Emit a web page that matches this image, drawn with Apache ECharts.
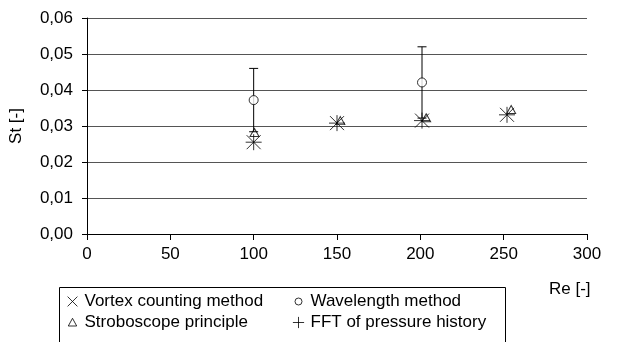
<!DOCTYPE html>
<html>
<head>
<meta charset="utf-8">
<script src="https://cdn.jsdelivr.net/npm/echarts@6/dist/echarts.min.js"></script>
<style>
  html, body {margin: 0; padding: 0; background: #fff;}
  #chart {width: 620px; height: 342px;}
</style>
</head>
<body>
<div id="chart"></div>
<script>
// data
const reVortex = [100, 150, 201, 252];
const stVortex = [0.0255, 0.0308, 0.0315, 0.0331];
const reWave = [100, 201];
const stWave = [0.0372, 0.0421];
const errWave = [0.0088, 0.0099];
const reStrobo = [100.5, 152, 203.5, 254.5];
const stStrobo = [0.0282, 0.0315, 0.0323, 0.0346];
const reFft = [100, 150, 201, 252];
const stFft = [0.0255, 0.0308, 0.0315, 0.0331];
const xTicks = {min: 0, max: 300, step: 50};
const yTicks = {min: 0, max: 0.06, step: 0.01};

const FONT = 'Liberation Sans, Arial, sans-serif';
const pad = 'M0,0L0,0M20,20L20,20';
const icons = {
  cross: 'path://M0,0L10,10M10,0L0,10',
  plus: 'path://M5,0L5,10M0,5L10,5',
  tri: 'path://M5,0L10,9L0,9Z',
  legCross: 'path://' + pad + 'M3,3L17,17M17,3L3,17',
  legPlus: 'path://' + pad + 'M10,2L10,18M2,10L18,10',
  legTri: 'path://' + pad + 'M10,4L16,15L4,15Z',
  legCircle: 'path://' + pad + 'M15,10A5,5,0,1,1,5,10A5,5,0,1,1,15,10Z'
};
const stroke = {color: 'rgba(0,0,0,0)', borderColor: '#000', borderWidth: 1};
const txt = {color: '#000', fontFamily: FONT, fontSize: 17};

const zip = (xs, ys) => xs.map((x, i) => [x, ys[i]]);

const chart = echarts.init(document.getElementById('chart'));
chart.setOption({
  animation: false,
  backgroundColor: '#fff',
  grid: {left: 86, right: 33, top: 18, bottom: 108},
  xAxis: {
    type: 'value', min: xTicks.min, max: xTicks.max, interval: xTicks.step,
    axisLine: {lineStyle: {color: '#000'}},
    axisTick: {show: true, length: 6, lineStyle: {color: '#000'}},
    axisLabel: Object.assign({margin: 12}, txt),
    splitLine: {show: false}
  },
  yAxis: {
    type: 'value', min: yTicks.min, max: yTicks.max, interval: yTicks.step,
    name: 'St [-]', nameLocation: 'middle', nameGap: 62, nameRotate: 90,
    nameTextStyle: txt,
    axisLine: {show: true, lineStyle: {color: '#000'}},
    axisTick: {show: true, length: 5, lineStyle: {color: '#000'}},
    axisLabel: Object.assign({
      margin: 14,
      formatter: v => v.toFixed(2).replace('.', ',')
    }, txt),
    splitLine: {lineStyle: {color: '#555', width: 1.2}}
  },
  legend: [
    {
      orient: 'vertical', left: 65, top: 293, padding: 0, itemGap: 4,
      itemWidth: 14, itemHeight: 14,
      textStyle: Object.assign({lineHeight: 17}, txt),
      data: [
        {name: 'Vortex counting method', icon: icons.legCross, itemStyle: stroke},
        {name: 'Stroboscope principle', icon: icons.legTri, itemStyle: stroke}
      ]
    },
    {
      orient: 'vertical', left: 291, top: 293, padding: 0, itemGap: 4,
      itemWidth: 14, itemHeight: 14,
      textStyle: Object.assign({lineHeight: 17}, txt),
      data: [
        {name: 'Wavelength method', icon: icons.legCircle, itemStyle: stroke},
        {name: 'FFT of pressure history', icon: icons.legPlus, itemStyle: stroke}
      ]
    }
  ],
  graphic: [
    {
      type: 'rect', left: 57, top: 285, silent: true,
      shape: {width: 446, height: 70},
      style: {fill: 'none', stroke: '#000', lineWidth: 1}
    },
    {
      type: 'text', left: 549, top: 281, silent: true,
      style: {text: 'Re [-]', fill: '#000', font: '17px ' + FONT}
    }
  ],
  series: [
    {
      name: 'Wavelength method error', type: 'custom', silent: true,
      data: reWave.map((x, i) => [x, stWave[i] - errWave[i], stWave[i] + errWave[i]]),
      renderItem(params, api) {
        const lo = api.coord([api.value(0), api.value(1)]);
        const hi = api.coord([api.value(0), api.value(2)]);
        const w = 4.5;
        const ls = {stroke: '#000', lineWidth: 1};
        return {
          type: 'group',
          children: [
            {type: 'line', shape: {x1: lo[0], y1: lo[1], x2: hi[0], y2: hi[1]}, style: ls},
            {type: 'line', shape: {x1: hi[0] - w, y1: hi[1], x2: hi[0] + w, y2: hi[1]}, style: ls},
            {type: 'line', shape: {x1: lo[0] - w, y1: lo[1], x2: lo[0] + w, y2: lo[1]}, style: ls}
          ]
        };
      }
    },
    {
      name: 'Vortex counting method', type: 'scatter',
      symbol: icons.cross, symbolSize: 14,
      itemStyle: stroke, data: zip(reVortex, stVortex)
    },
    {
      name: 'Wavelength method', type: 'scatter',
      symbol: 'circle', symbolSize: 9,
      itemStyle: {color: '#fff', borderColor: '#000', borderWidth: 1},
      data: zip(reWave, stWave)
    },
    {
      name: 'Stroboscope principle', type: 'scatter',
      symbol: icons.tri, symbolSize: [9, 8],
      itemStyle: stroke, data: zip(reStrobo, stStrobo)
    },
    {
      name: 'FFT of pressure history', type: 'scatter',
      symbol: icons.plus, symbolSize: 16,
      itemStyle: stroke, data: zip(reFft, stFft)
    }
  ]
});
</script>
</body>
</html>
